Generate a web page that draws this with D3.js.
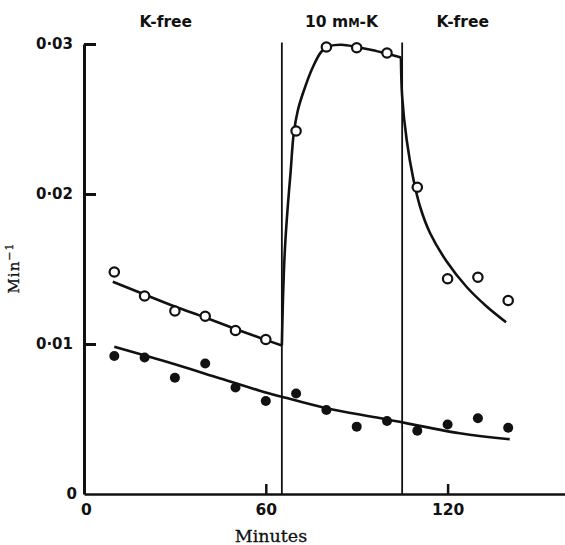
<!DOCTYPE html>
<html>
<head>
<meta charset="utf-8">
<script src="https://cdn.jsdelivr.net/npm/d3@7"></script>
<style>
  html, body { margin: 0; padding: 0; background: #fff; }
  svg { display: block; }
</style>
</head>
<body>
<svg id="chart" width="565" height="545"></svg>
<script>
// ---- data ----
const xTicks = [0, 60, 120];
const yTicks = [0, 0.01, 0.02, 0.03];
const yTickLabels = ["0", "0·01", "0·02", "0·03"];
const phaseBounds = [65.3, 105];
const phaseLabels = ["K-free", "10 mM-K", "K-free"];
const phaseLabelX = [27, 85, 125];

// open circles (times, rate)
const openTimes = [10, 20, 30, 40, 50, 60, 70, 80, 90, 100, 110, 120, 130, 140];
const openValues = [0.0148, 0.0132, 0.0122, 0.01185, 0.0109, 0.0103, 0.0242, 0.0298, 0.02975, 0.0294, 0.02045, 0.01435, 0.01445, 0.0129];

// filled circles
const filledTimes = [10, 20, 30, 40, 50, 60, 70, 80, 90, 100, 110, 120, 130, 140];
const filledValues = [0.0092, 0.0091, 0.00775, 0.0087, 0.0071, 0.0062, 0.0067, 0.0056, 0.00449, 0.00487, 0.00422, 0.00463, 0.00505, 0.00442];

// drawn curves
const curveOpen1T = [9.5, 20, 30, 40, 50, 60, 65.3];
const curveOpen1V = [0.01415, 0.0133, 0.0125, 0.01177, 0.0110, 0.01027, 0.0099];
const curveRiseT = [65.3, 65.6, 66.0, 66.5, 67.3, 68.2, 69.2, 70.6, 72.4, 75.4, 78.4, 81, 85, 90, 95, 100, 104.6];
const curveRiseV = [0.0099, 0.0125, 0.0150, 0.0170, 0.0193, 0.0215, 0.0240, 0.0256, 0.0268, 0.0284, 0.0295, 0.02985, 0.02995, 0.0298, 0.0296, 0.02935, 0.0291];
const curveDecayT = [104.6, 105.0, 106.5, 108.7, 111, 114.2, 119.7, 126.3, 132.9, 139.3];
const curveDecayV = [0.0291, 0.0265, 0.0236, 0.0210, 0.0191, 0.0174, 0.0155, 0.0138, 0.0125, 0.01145];
const curveFilledT = [10, 30, 45, 58, 65, 80, 98, 124, 140.5];
const curveFilledV = [0.00982, 0.00865, 0.0077, 0.00689, 0.0065, 0.00572, 0.00505, 0.00405, 0.00365];

// ---- drawing ----
const svg = d3.select("#chart");
const ink = "#111";
const x = d3.scaleLinear().domain([0, 160]).range([84, 568.8]);
const y = d3.scaleLinear().domain([0, 0.03]).range([494, 44]);
const sansBold = "'DejaVu Sans', sans-serif";
const serif = "'DejaVu Serif', serif";

// x axis
const xAxis = svg.append("g")
  .attr("transform", `translate(0,${y(0)})`)
  .call(d3.axisBottom(x).tickValues(xTicks).tickSize(-10).tickSizeOuter(0).tickPadding(10).tickFormat(d3.format("d")));
xAxis.select(".domain").attr("stroke", ink).attr("stroke-width", 2.5);
xAxis.selectAll(".tick line").attr("stroke", ink).attr("stroke-width", 2.5);
xAxis.selectAll(".tick text").attr("fill", ink).attr("font-family", sansBold)
  .attr("font-weight", "bold").attr("font-size", 15.5);
xAxis.selectAll(".tick").filter(d => d === 0).select("line").remove();
xAxis.selectAll(".tick").filter(d => d === 0).select("text").attr("x", 2);

// y axis
const yAxis = svg.append("g")
  .attr("transform", `translate(${x(0)},0)`)
  .call(d3.axisLeft(y).tickValues(yTicks).tickSize(-12).tickSizeOuter(0).tickPadding(11)
    .tickFormat((d, i) => yTickLabels[i]));
yAxis.select(".domain").attr("stroke", ink).attr("stroke-width", 3);
yAxis.selectAll(".tick line").attr("stroke", ink).attr("stroke-width", 3);
yAxis.selectAll(".tick text").attr("fill", ink).attr("font-family", sansBold)
  .attr("font-weight", "bold").attr("font-size", 15);
yAxis.selectAll(".tick").filter(d => d === 0).select("line").remove();
yAxis.selectAll(".tick").filter(d => d === 0).select("text").attr("x", -7);

// phase boundaries
svg.append("g").selectAll("line").data(phaseBounds).join("line")
  .attr("x1", d => x(d)).attr("x2", d => x(d))
  .attr("y1", y(0.0301)).attr("y2", y(0))
  .attr("stroke", ink).attr("stroke-width", 1.8);

// phase labels
const pl = svg.append("g").attr("font-family", sansBold).attr("font-weight", "bold")
  .attr("font-size", 15.5).attr("fill", ink).attr("text-anchor", "middle");
phaseLabels.forEach((lab, i) => {
  const t = pl.append("text").attr("x", x(phaseLabelX[i])).attr("y", 27);
  if (lab.includes("mM")) {
    t.append("tspan").text("10 m");
    t.append("tspan").attr("font-size", 11.5).text("M");
    t.append("tspan").text("-K");
  } else {
    t.text(lab);
  }
});

// curves
const line = d3.line().x(d => x(d[0])).y(d => y(d[1])).curve(d3.curveCatmullRom.alpha(0.5));
const curves = [
  [curveOpen1T, curveOpen1V],
  [curveRiseT, curveRiseV],
  [curveDecayT, curveDecayV],
  [curveFilledT, curveFilledV]
];
svg.append("g").selectAll("path").data(curves).join("path")
  .attr("d", c => line(c[0].map((t, i) => [t, c[1][i]])))
  .attr("fill", "none").attr("stroke", ink).attr("stroke-width", 2.6);

// points
svg.append("g").selectAll("circle").data(filledTimes.map((t, i) => [t, filledValues[i]])).join("circle")
  .attr("cx", d => x(d[0])).attr("cy", d => y(d[1])).attr("r", 5).attr("fill", ink);
svg.append("g").selectAll("circle").data(openTimes.map((t, i) => [t, openValues[i]])).join("circle")
  .attr("cx", d => x(d[0])).attr("cy", d => y(d[1])).attr("r", 4.7)
  .attr("fill", "#fff").attr("stroke", ink).attr("stroke-width", 2.2);

// axis titles
svg.append("text").attr("x", 271).attr("y", 542).attr("text-anchor", "middle")
  .attr("font-family", serif).attr("font-size", 17.5).attr("fill", ink)
  .attr("stroke", ink).attr("stroke-width", 0.3).text("Minutes");
const yl = svg.append("text").attr("transform", "translate(19,268) rotate(-90)")
  .attr("text-anchor", "middle").attr("font-family", serif).attr("font-size", 15)
  .attr("letter-spacing", 1).attr("fill", ink).attr("stroke", ink).attr("stroke-width", 0.3);
yl.append("tspan").text("Min");
yl.append("tspan").attr("font-size", 11).attr("dy", -6).text("−1");
</script>
</body>
</html>
